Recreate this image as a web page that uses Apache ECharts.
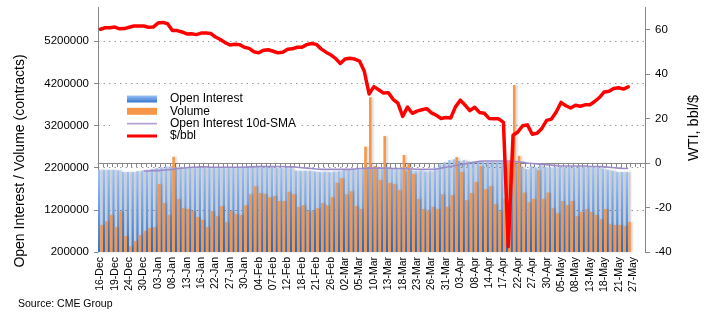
<!DOCTYPE html>
<html>
<head>
<meta charset="utf-8">
<script src="https://cdn.jsdelivr.net/npm/echarts@6/dist/echarts.min.js"></script>
<style>
html,body{margin:0;padding:0;background:#fff;}
#chart{width:710px;height:323px;}
</style>
</head>
<body>
<div id="chart"></div>
<script>
var dates = [
'16-Dec','17-Dec','18-Dec','19-Dec','20-Dec','23-Dec','24-Dec','26-Dec','27-Dec','30-Dec','31-Dec',
'02-Jan','03-Jan','06-Jan','07-Jan','08-Jan','09-Jan','10-Jan','13-Jan','14-Jan','15-Jan','16-Jan','17-Jan','21-Jan','22-Jan','23-Jan','24-Jan','27-Jan','28-Jan','29-Jan','30-Jan','31-Jan',
'03-Feb','04-Feb','05-Feb','06-Feb','07-Feb','10-Feb','11-Feb','12-Feb','13-Feb','14-Feb','18-Feb','19-Feb','20-Feb','21-Feb','24-Feb','25-Feb','26-Feb','27-Feb','28-Feb',
'02-Mar','03-Mar','04-Mar','05-Mar','06-Mar','09-Mar','10-Mar','11-Mar','12-Mar','13-Mar','16-Mar','17-Mar','18-Mar','19-Mar','20-Mar','23-Mar','24-Mar','25-Mar','26-Mar','27-Mar','30-Mar','31-Mar',
'01-Apr','02-Apr','03-Apr','06-Apr','07-Apr','08-Apr','09-Apr','13-Apr','14-Apr','15-Apr','16-Apr','17-Apr','20-Apr','21-Apr','22-Apr','23-Apr','24-Apr','27-Apr','28-Apr','29-Apr','30-Apr',
'01-May','04-May','05-May','06-May','07-May','08-May','11-May','12-May','13-May','14-May','15-May','18-May','19-May','20-May','21-May','22-May','26-May','27-May','28-May','29-May'
];

var openInterest = [
2150000,2150000,2150000,2150000,2140000,2100000,2100000,2100000,2120000,2130000,2150000,
2170000,2190000,2210000,2230000,2240000,2210000,2200000,2210000,2210000,2210000,2220000,2200000,2210000,2200000,2210000,2200000,2200000,2210000,2220000,2220000,2230000,
2230000,2240000,2230000,2220000,2230000,2200000,2200000,2200000,2190000,2130000,2130000,2130000,2130000,2110000,2100000,2110000,2100000,2110000,2120000,
2170000,2170000,2170000,2170000,2180000,2170000,2170000,2180000,2180000,2190000,2180000,2170000,2190000,2130000,2140000,2120000,2130000,2110000,2120000,2200000,2280000,2330000,
2380000,2400000,2360000,2380000,2350000,2350000,2360000,2340000,2350000,2350000,2340000,2350000,2350000,2340000,2280000,2220000,2170000,2240000,2210000,2260000,2220000,
2210000,2210000,2220000,2210000,2220000,2210000,2220000,2220000,2210000,2210000,2220000,2180000,2150000,2130000,2100000,2100000,2100000,null,null,null
];

var volume = [
840000,930000,1080000,790000,1160000,580000,340000,460000,600000,700000,770000,
790000,1810000,1360000,1080000,2460000,1460000,1240000,1220000,1170000,1030000,960000,790000,1170000,1050000,1290000,910000,1170000,1100000,1080000,1310000,1570000,
1760000,1600000,1580000,1500000,1530000,1410000,1410000,1630000,1570000,1270000,1310000,1170000,1170000,1240000,1360000,1310000,1500000,1840000,1950000,
1570000,1640000,1290000,1220000,2700000,3870000,2240000,1910000,2950000,1840000,1810000,1670000,2500000,2290000,2050000,1460000,1220000,1170000,1270000,1220000,1570000,1270000,
1550000,2450000,2100000,1430000,1600000,1860000,2240000,1690000,1760000,1340000,1170000,1460000,2340000,4160000,2480000,1610000,1380000,1460000,2140000,1460000,1610000,
1240000,1120000,1410000,1310000,1410000,1050000,1150000,1220000,1150000,1080000,980000,1220000,860000,840000,840000,820000,910000,null,null,null
];

var oiSma10 = [
null,null,null,null,null,null,null,null,null,2120000,2120000,
2130000,2130000,2140000,2150000,2160000,2180000,2190000,2200000,2210000,2210000,2220000,2220000,2210000,2210000,2210000,2210000,2210000,2210000,2210000,2210000,2220000,
2220000,2230000,2230000,2230000,2230000,2230000,2230000,2220000,2220000,2210000,2200000,2190000,2180000,2170000,2160000,2160000,2160000,2160000,2160000,
2160000,2160000,2170000,2180000,2180000,2190000,2190000,2190000,2190000,2190000,2180000,2180000,2180000,2170000,2170000,2160000,2160000,2160000,2160000,2170000,2190000,2210000,
2230000,2250000,2270000,2290000,2310000,2330000,2350000,2360000,2360000,2360000,2360000,2360000,2360000,2350000,2340000,2330000,2310000,2300000,2290000,2280000,2270000,
2260000,2250000,2240000,2240000,2240000,2240000,2240000,2240000,2230000,2230000,2230000,2220000,2210000,2200000,2190000,2180000,2180000,null,null,null
];

var wtiPrice = [
60.2,60.9,60.9,61.2,60.4,60.5,61.1,61.7,61.7,61.7,61.1,
61.2,63.0,63.3,62.7,59.6,59.6,59.0,58.1,58.2,57.8,58.5,58.5,58.3,56.7,55.6,54.2,53.1,53.5,53.3,52.1,51.6,
50.1,49.6,50.8,51.0,50.3,49.6,49.9,51.2,51.4,52.1,52.1,53.3,53.8,53.4,51.4,49.9,48.7,47.1,44.8,
46.8,47.2,46.8,45.9,41.3,31.1,34.4,33.0,31.5,31.7,28.7,27.0,21.0,25.2,22.4,23.4,24.0,24.5,22.6,21.5,20.1,20.5,
20.3,25.3,28.3,26.1,23.6,25.1,22.8,22.4,20.1,19.9,19.9,18.3,-37.6,12.5,14.0,16.8,17.2,13.0,13.4,15.6,19.2,
19.8,23.0,27.3,25.8,24.8,26.0,25.6,26.2,26.2,27.7,29.5,32.0,32.3,33.6,33.9,33.3,34.3,null,null,null
];

var leftTicks = { min: 200000, max: 6000000, step: 1000000 };
var rightTicks = { min: -40, max: 70, step: 20 };

var FONT = 'Liberation Sans, Arial, sans-serif';
var chart = echarts.init(document.getElementById('chart'), null, { renderer: 'canvas' });

var blueGrad = new echarts.graphic.LinearGradient(0, 0, 0, 1, [
  { offset: 0, color: '#9cc1f6' },
  { offset: 1, color: '#3576d0' }
]);

var option = {
  animation: false,
  backgroundColor: '#fff',
  textStyle: { fontFamily: FONT },
  grid: { left: 98, right: 65, top: 7.5, bottom: 71, containLabel: false },
  legend: {
    orient: 'vertical',
    left: 110,
    top: 89,
    backgroundColor: '#fff',
    padding: [4, 4, 4, 17],
    itemGap: 0.3,
    itemWidth: 30,
    itemHeight: 7,
    textStyle: { fontSize: 12, fontFamily: FONT, color: '#000', lineHeight: 12, padding: [0, 0, 0, 8] },
    data: [
      { name: 'Open Interest', icon: 'rect' },
      { name: 'Volume', icon: 'rect' },
      { name: 'Open Interest 10d-SMA', icon: 'path://M0,0L0.01,0ZM0,7L0.01,7ZM0,2.7H30V4.3H0Z' },
      { name: '$/bbl', icon: 'path://M0,0L0.01,0ZM0,7L0.01,7ZM0,2H30V5.2H0Z' }
    ]
  },
  xAxis: {
    type: 'category',
    data: dates,
    boundaryGap: true,
    axisLine: { lineStyle: { color: '#888', width: 1 } },
    axisTick: { show: true, interval: 0, length: 4, lineStyle: { color: '#888' } },
    axisLabel: { interval: 2, rotate: 90, fontSize: 10.5, color: '#000', margin: 5, fontFamily: FONT }
  },
  yAxis: [
    {
      type: 'value',
      position: 'left',
      min: leftTicks.min, max: leftTicks.max, interval: leftTicks.step,
      axisLine: { show: true, lineStyle: { color: '#888' } },
      axisTick: { show: true, length: 4, lineStyle: { color: '#888' } },
      axisLabel: { fontSize: 11.5, color: '#000', margin: 9, showMaxLabel: false, fontFamily: FONT,
        formatter: function (v) { return String(v); } },
      splitLine: { show: true, showMaxLine: false, showMinLine: false, lineStyle: { color: '#9a9a9a', type: [1.5, 4], width: 1 } }
    },
    {
      type: 'value',
      position: 'right',
      min: rightTicks.min, max: rightTicks.max, interval: rightTicks.step,
      axisLine: { show: true, lineStyle: { color: '#888' } },
      axisTick: { show: true, length: 5, lineStyle: { color: '#888' } },
      axisLabel: { fontSize: 11.5, color: '#000', margin: 10, showMaxLabel: false, fontFamily: FONT,
        formatter: function (v) { return String(v); } },
      splitLine: { show: false }
    }
  ],
  graphic: [
    { type: 'text', x: 20, y: 161, rotation: Math.PI / 2,
      style: { text: 'Open Interest / Volume (contracts)', font: '14px ' + FONT, fill: '#000', align: 'center', verticalAlign: 'middle' } },
    { type: 'text', x: 694, y: 128, rotation: Math.PI / 2,
      style: { text: 'WTI, bbl/$', font: '14.5px ' + FONT, fill: '#000', align: 'center', verticalAlign: 'middle' } },
    { type: 'text', x: 18, y: 304,
      style: { text: 'Source: CME Group', font: '10.5px ' + FONT, fill: '#000', align: 'left', verticalAlign: 'middle' } }
  ],
  series: [
    {
      name: 'Open Interest', type: 'bar', yAxisIndex: 0, data: openInterest,
      barWidth: 2.4,
      itemStyle: { color: blueGrad, shadowColor: 'rgba(0,0,0,0.25)', shadowBlur: 2, shadowOffsetX: 2.5 },
      z: 2
    },
    {
      name: 'Volume', type: 'bar', yAxisIndex: 0, data: volume,
      barWidth: 2.6, barGap: '0%',
      itemStyle: { color: '#f79646', shadowColor: 'rgba(0,0,0,0.15)', shadowBlur: 2, shadowOffsetX: 2 },
      z: 3
    },
    {
      name: 'Open Interest 10d-SMA', type: 'line', yAxisIndex: 0, data: oiSma10,
      symbol: 'none', showSymbol: false,
      lineStyle: { color: '#9b8cc8', width: 1.6 },
      itemStyle: { color: '#b3a5d3' },
      z: 4
    },
    {
      name: '$/bbl', type: 'line', yAxisIndex: 1, data: wtiPrice,
      symbol: 'none', showSymbol: false,
      lineStyle: { color: '#ff0000', width: 3.5, join: 'round', cap: 'round' },
      itemStyle: { color: '#ff0000' },
      z: 5
    }
  ]
};
chart.setOption(option);
</script>
</body>
</html>
